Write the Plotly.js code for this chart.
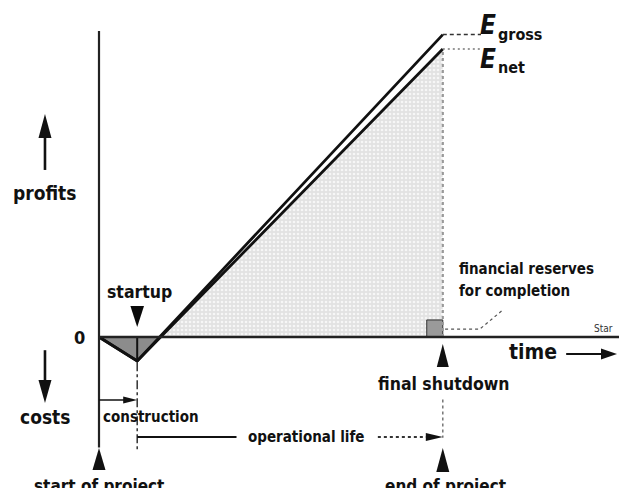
<!DOCTYPE html>
<html>
<head>
<meta charset="utf-8">
<script src="https://cdn.plot.ly/plotly-3.0.1.min.js"></script>
<style>html,body{margin:0;padding:0;background:#fff;}#chart{width:619px;height:488px;}</style>
</head>
<body>
<div id="chart"></div>
<script>
// ---- data (time in years, value in arbitrary money units) ----
const phases = ['start of project', 'startup', 'final shutdown'];
const phaseTime = [0, 1, 9];
const grossProfit = [0, -1, 12.6];
const netProfit = [0, -1, 12.0];
const reserveAmount = [0.71];
const reserveSpan = [0.42];
const seriesNames = ['E', 'gross', 'net'];

// ---- derived ----
const tStart = phaseTime[0], tUp = phaseTime[1], tEnd = phaseTime[2];
const tCross = tUp + (0 - netProfit[1]) * (tEnd - tUp) / (netProfit[2] - netProfit[1]);
const FONT = 'DejaVu Sans Condensed, Liberation Sans Narrow, DejaVu Sans, sans-serif';
const ink = '#111';

const traces = [
  { // operational profit area (light dotted)
    x: [tUp, tEnd], y: [netProfit[1], netProfit[2]], mode: 'lines', fill: 'tozeroy',
    line: {width: 0, color: 'rgba(0,0,0,0)'}, fillcolor: '#e4e4e4',
    fillpattern: {shape: '.', bgcolor: '#e2e2e2', fgcolor: '#f6f6f6', size: 4, solidity: 0.35},
    hoverinfo: 'skip'
  },
  { // construction cost triangle (dark)
    x: [tStart, tUp, tCross, tStart], y: [0, netProfit[1], 0, 0], mode: 'lines', fill: 'toself',
    fillcolor: '#8c8c8c', line: {width: 0}, hoverinfo: 'skip'
  },
  { // financial reserves square
    x: [tEnd - reserveSpan[0], tEnd, tEnd, tEnd - reserveSpan[0], tEnd - reserveSpan[0]],
    y: [0, 0, reserveAmount[0], reserveAmount[0], 0], mode: 'lines', fill: 'toself',
    fillcolor: '#9a9a9a', line: {width: 1, color: '#333'}, hoverinfo: 'skip'
  },
  { // startup vertical in triangle
    x: [tUp, tUp], y: [0, netProfit[1]], mode: 'lines', line: {width: 2, color: ink}, hoverinfo: 'skip'
  },
  { // shutdown dotted edge
    x: [tEnd, tEnd], y: [0, netProfit[2]], mode: 'lines', line: {width: 2.2, color: '#999', dash: 'dot'}, hoverinfo: 'skip'
  },
  { // gross
    x: phaseTime, y: grossProfit, mode: 'lines', line: {width: 2.8, color: ink}, hoverinfo: 'skip'
  },
  { // net
    x: phaseTime, y: netProfit, mode: 'lines', line: {width: 2.8, color: ink}, hoverinfo: 'skip'
  },
  { // gross connector
    x: [tEnd, 10.0], y: [grossProfit[2], grossProfit[2]], mode: 'lines',
    line: {width: 1.5, color: '#333', dash: '4px,3px'}, hoverinfo: 'skip'
  },
  { // net connector
    x: [tEnd, 10.0], y: [netProfit[2], netProfit[2]], mode: 'lines',
    line: {width: 1.5, color: '#777', dash: '2px,3px'}, hoverinfo: 'skip'
  },
  { // startup marker (pointing down onto the timeline)
    x: [tUp], y: [0.42], mode: 'markers',
    marker: {symbol: 'arrow', angle: 180, size: 22, color: '#0a0a0a', line: {width: 0}}, hoverinfo: 'skip'
  }
];

function head(xa, ya, path) {
  return {type: 'path', xref: 'x', yref: 'y', xsizemode: 'pixel', ysizemode: 'pixel',
    xanchor: xa, yanchor: ya, path: path, fillcolor: ink, line: {width: 0}};
}
function seg(x0, y0, x1, y1, w, color, dash) {
  return {type: 'line', xref: 'x', yref: 'y', x0: x0, x1: x1, y0: y0, y1: y1,
    line: {color: color || ink, width: w, dash: dash || 'solid'}};
}

const shapes = [
  seg(tStart, 12.75, tStart, -4.6, 2.2, '#222'),          // vertical axis
  seg(tStart, 0, 13.7, 0, 2.4, '#222'),                   // zero line
  seg(tUp, -1.05, tUp, -4.7, 1.5, '#333', 'dashdot'),     // startup guide
  seg(tEnd, -2.6, tEnd, -4.2, 1.5, '#777', 'dot'),        // shutdown guide
  seg(tUp, -4.17, 3.6, -4.17, 2, ink),                    // operational life left
  seg(7.3, -4.17, 8.6, -4.17, 2, '#333', 'dot'),          // operational life right shaft
  seg(tStart, -2.625, 0.7, -2.625, 1.5, ink),             // construction shaft
  seg(-1.414, 6.96, -1.414, 8.4, 2.6, ink),               // profits shaft
  seg(-1.414, -0.55, -1.414, -1.9, 2.6, ink),             // costs shaft
  seg(12.23, -0.708, 13.2, -0.708, 2.2, ink),             // time shaft
  {type: 'path', xref: 'x', yref: 'y', path: 'M9.06,0.33 L9.97,0.33 L10.55,1.1', line: {color: '#555', width: 1.2, dash: 'dot'}},
  // arrow heads and milestone markers (pixel-sized)
  head(tEnd, 0, 'M-6,-30 L6,-30 L0,-7 Z'),
  head(tStart, 0, 'M-6.5,-133 L6.5,-133 L0,-111 Z'),
  head(tEnd, 0, 'M-6.5,-135 L6.5,-135 L0,-111 Z'),
  head(-1.414, 9.29, 'M0,0 L-6.5,-24 L6.5,-24 Z'),
  head(-1.414, -2.75, 'M0,0 L-6.5,23 L6.5,23 Z'),
  head(13.56, -0.708, 'M0,0 L-16,5.5 L-16,-5.5 Z'),
  head(tUp, -2.625, 'M0,0 L-14,3.5 L-14,-3.5 Z'),
  head(tEnd, -4.17, 'M0,0 L-17,4 L-17,-4 Z')
];

function txt(text, x, y, size, xanchor, extra) {
  return Object.assign({text: text, x: x, y: y, xref: 'x', yref: 'y', showarrow: false,
    xanchor: xanchor || 'center', yanchor: 'middle',
    font: {family: FONT, size: size, color: ink, weight: 'bold'}}, extra || {});
}
const eFont = {family: FONT, size: 26, color: ink, weight: 'bold', style: 'italic'};

const annotations = [
  txt('profits', -1.414, 6.0, 19),
  txt('costs', -1.414, -3.33, 19),
  txt('0', -0.5, 0.0, 18),
  txt(phases[1], 1.06, 1.875, 17.5),
  txt('construction', 0.06, -3.35, 15, 'left'),
  txt('operational life', 5.42, -4.15, 15),
  txt(phases[2], 9.03, -1.96, 17.5),
  txt('end of project', 9.06, -6.2, 17),
  txt(phases[0], 0, -6.2, 17),
  txt('time', 11.36, -0.62, 21),
  txt('financial reserves', 9.37, 2.83, 15, 'left'),
  txt('for completion', 9.37, 1.9, 15, 'left'),
  txt('Star', 12.9, 0.35, 10, 'left', {font: {family: FONT, size: 10, color: '#333'}}),
  txt(seriesNames[0], 10.18, 13.0, 26, 'center', {font: eFont}),
  txt(seriesNames[1], 10.4, 12.6, 16, 'left'),
  txt(seriesNames[0], 10.18, 11.6, 26, 'center', {font: eFont}),
  txt(seriesNames[2], 10.4, 11.25, 16, 'left')
];

const layout = {
  width: 619, height: 488, margin: {l: 0, r: 0, t: 0, b: 0},
  paper_bgcolor: '#fff', plot_bgcolor: '#fff', showlegend: false,
  xaxis: {range: [-2.5916, 13.613], visible: false, fixedrange: true},
  yaxis: {range: [-6.2917, 14.0417], visible: false, fixedrange: true},
  shapes: shapes, annotations: annotations
};

Plotly.newPlot('chart', traces, layout, {staticPlot: true, displayModeBar: false});
</script>
</body>
</html>
